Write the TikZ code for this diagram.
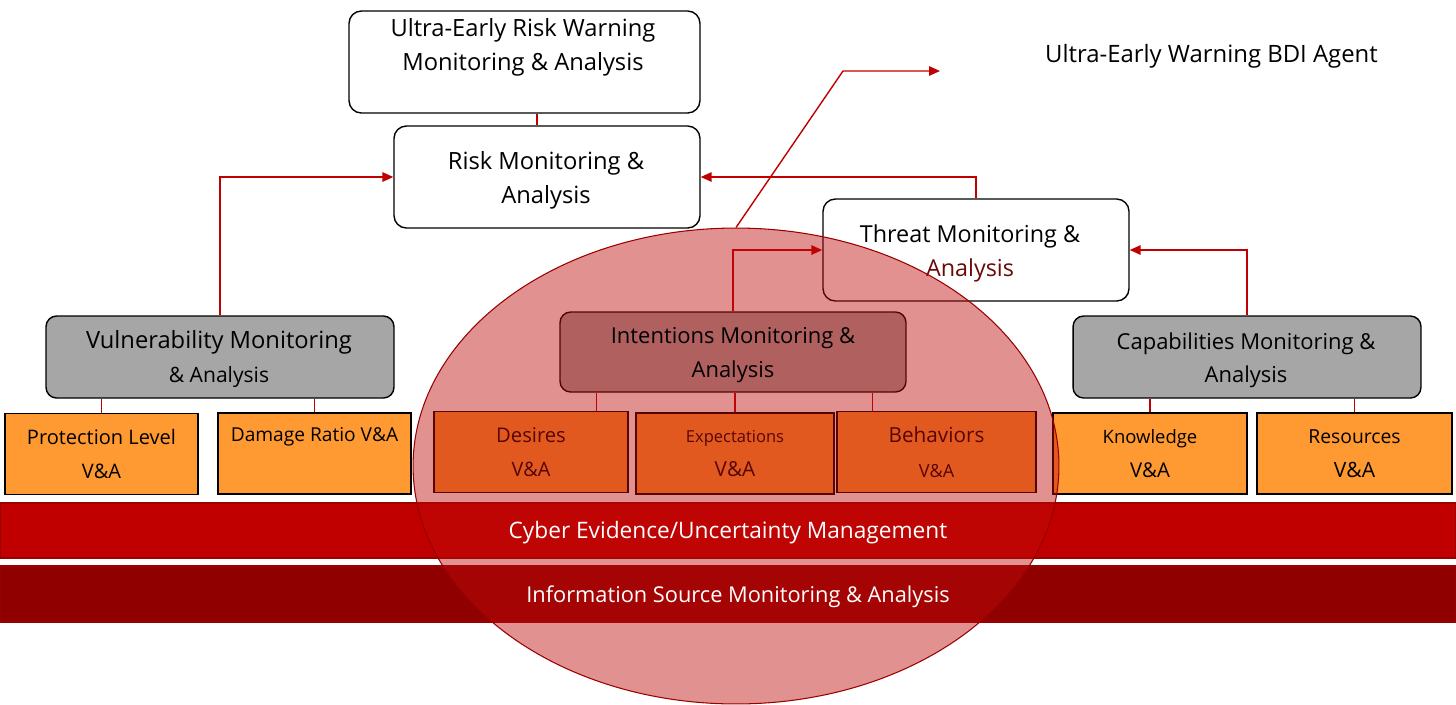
\documentclass[tikz,border=0pt]{standalone}
\usepackage{fontspec}
\setmainfont{Open Sans}
\usetikzlibrary{
    arrows.meta,
    shapes.geometric,
    positioning
}
\definecolor{linkred}{HTML}{C00000}
\definecolor{evidencered}{HTML}{C00000}
\definecolor{sourcered}{HTML}{910000}
\definecolor{edgered}{HTML}{9A0000}
\definecolor{overlayred}{HTML}{BF0B0B}
\definecolor{leaforange}{HTML}{FF9A33}
\definecolor{groupgray}{HTML}{A6A6A6}
\definecolor{tintedtext}{HTML}{6A0A0A}
\tikzset{
    monbox/.style={
        draw=black,
        fill=white,
        rounded corners=7pt,
        line width=0.8pt,
        inner sep=0pt,
        align=center
    },
    groupbox/.style={
        monbox,
        fill=groupgray,
        rounded corners=6pt,
        minimum height=1.64cm
    },
    leafbox/.style={
        draw=black,
        fill=leaforange,
        line width=0.8pt,
        inner sep=0pt,
        align=center,
        minimum height=1.62cm,
        font=\fontsize{11}{19.6}\selectfont
    },
    bar/.style={
        draw=edgered,
        line width=0.6pt,
        minimum width=29.12cm,
        inner sep=0pt
    },
    bar text/.style={
        text=white
    },
    big text/.style={
        align=center,
        font=\fontsize{13.5}{19.4}\selectfont
    },
    group text/.style={
        align=center,
        font=\fontsize{12.5}{19}\selectfont
    },
    link/.style={
        draw=linkred,
        line width=0.8pt
    },
    flow/.style={
        link,
        -{Triangle[length=2.2mm, width=1.9mm]}
    }
}
\newcommand{\fsz}[1]{\fontsize{#1}{19.6}\selectfont}

\begin{document}
\begin{tikzpicture}[x=0.02cm, y=-0.02cm]
    \useasboundingbox (0,0) rectangle (1456,704);

    % top level boxes
    \node[monbox, minimum width=7.02cm, minimum height=2.04cm] (ultra) at (524.5,62) {};
    \node[big text] (ultratext) at (523,47)
        {Ultra-Early Risk Warning\\Monitoring \& Analysis};
    \node[monbox, big text, minimum width=6.12cm, minimum height=2.04cm] (risk) at (547,177) {};
    \node[big text] (risktext) at (546,180) {Risk Monitoring \&\\Analysis};
    \node[monbox, minimum width=6.12cm, minimum height=2.04cm] (threat) at (976,250) {};
    \node[big text, font=\fontsize{13.3}{19.4}\selectfont] (threattext) at (970,253)
        {Threat Monitoring \&\\\textcolor{tintedtext}{Analysis}};
    \node[font=\fontsize{13.6}{14}\selectfont] (bditext) at (1211.5,56)
        {Ultra-Early Warning BDI Agent};

    % group boxes
    \node[groupbox, minimum width=6.96cm] (vuln) at (220,357) {};
    \node[big text] (vulntext) at (219,359)
        {Vulnerability Monitoring\\{\fontsize{12}{19.4}\selectfont \& Analysis}};
    \node[groupbox, minimum width=6.92cm, minimum height=1.6cm] (intent) at (733,352) {};
    \node[groupbox, minimum width=6.96cm] (cap) at (1247,357) {};
    \node[group text] (captext) at (1246,360) {Capabilities Monitoring \&\\Analysis};

    % leaf boxes
    \node[leafbox, minimum width=3.86cm] (prot) at (101.5,454)
        {\fsz{11.4}Protection Level\\\fsz{11.4}V\&A};
    \node[leafbox, minimum width=3.86cm] (dmg) at (314.5,453.5) {};
    \node[font=\fsz{10.9}] (dmgtext) at (314.5,437) {Damage Ratio V\&A};
    \node[leafbox, minimum width=3.88cm] (desires) at (531,452)
        {\fsz{11.5}Desires\\\fsz{11.3}V\&A};
    \node[leafbox, minimum width=3.96cm] (expect) at (735,453.5)
        {\fsz{9.4}Expectations\\\fsz{11.8}V\&A};
    \node[leafbox, minimum width=3.98cm] (behav) at (936.5,452)
        {\fsz{11.8}Behaviors\\\fsz{10.3}V\&A};
    \node[leafbox, minimum width=3.88cm] (know) at (1150,453.5)
        {\fsz{10.5}Knowledge\\\fsz{11.6}V\&A};
    \node[leafbox, minimum width=3.9cm] (res) at (1354.5,453.5)
        {\fsz{11}Resources\\\fsz{12}V\&A};

    % bottom bars
    \node[bar, fill=evidencered, minimum height=1.1cm] (evidence) at (728,530.5) {};
    \node[bar, fill=sourcered, minimum height=1.12cm] (source) at (728,594) {};

    % connectors
    \draw[link] ([xshift=-0.2cm]risk.north) -- ([xshift=-0.2cm]risk.north |- ultra.south);
    \draw[flow] (vuln.north) |- (risk.west);
    \draw[flow] (threat.north) |- (risk.east);
    \draw[flow] (intent.north) |- (threat.west);
    \draw[flow] (cap.north) |- (threat.east);

    \draw[link] (prot.north |- vuln.south) -- (prot.north);
    \draw[link] (dmg.north |- vuln.south) -- (dmg.north);
    \draw[link] ([xshift=0.74cm]intent.south west) -- ([xshift=0.74cm]intent.south west |- desires.north);
    \draw[link] (expect.north |- intent.south) -- (expect.north);
    \draw[link] ([xshift=-0.68cm]intent.south east) -- ([xshift=-0.68cm]intent.south east |- behav.north);
    \draw[link] (know.north |- cap.south) -- (know.north);
    \draw[link] (res.north |- cap.south) -- (res.north);

    % BDI agent overlay
    \node[ellipse, draw=edgered, line width=0.6pt, fill=overlayred, fill opacity=0.45,
        minimum width=12.92cm, minimum height=9.52cm, inner sep=0pt] (bdi) at (736,466) {};
    \coordinate (bdibend) at (843,71);
    \coordinate (bdiend) at (940,71);
    \draw[flow] (bdi.north) -- (bdibend) -- (bdiend);

    \node[group text] (intenttext) at (733,355) {Intentions Monitoring \&\\Analysis};
    \node[bar text, font=\fontsize{12.9}{14}\selectfont] (evidencetext) at (728,533)
        {Cyber Evidence/Uncertainty Management};
    \node[bar text, font=\fontsize{12.4}{14}\selectfont] (sourcetext) at (738,597)
        {Information Source Monitoring \& Analysis};

\end{tikzpicture}
\end{document}
